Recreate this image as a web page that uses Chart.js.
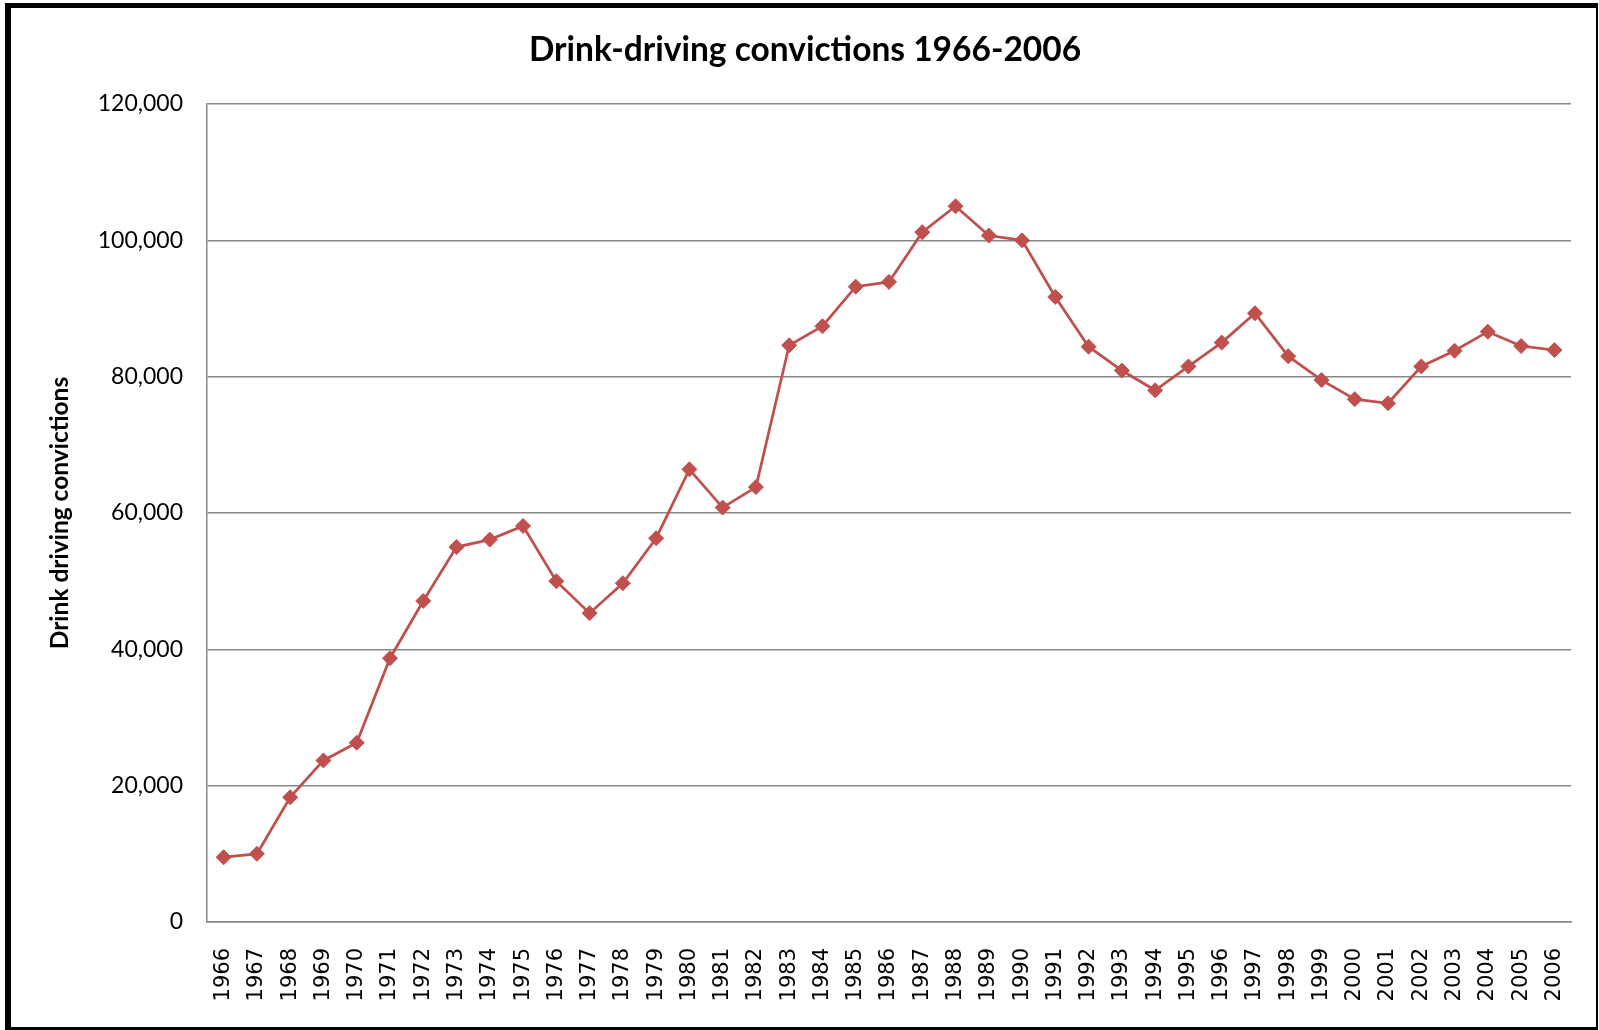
<!DOCTYPE html>
<html>
<head>
<meta charset="utf-8">
<title>Drink-driving convictions 1966-2006</title>
<script src="https://cdn.jsdelivr.net/npm/chart.js@4.4.1/dist/chart.umd.min.js"></script>
<style>
  html, body { margin: 0; padding: 0; background: #ffffff; }
  #wrap { position: relative; width: 1599px; height: 1030px; overflow: hidden; }
  #chart { position: absolute; left: 0; top: 0; }
  #frame {
    position: absolute; left: 5px; top: 3px; width: 1593px; height: 1027px;
    box-sizing: border-box; pointer-events: none;
    border-style: solid; border-color: #000;
    border-width: 5px 2px 3px 6px;
  }
</style>
</head>
<body>
<div id="wrap">
  <canvas id="chart" width="1599" height="1030"></canvas>
  <div id="frame"></div>
</div>
<script>
// Years on the category axis
const years = [
  '1966','1967','1968','1969','1970','1971','1972','1973','1974','1975',
  '1976','1977','1978','1979','1980','1981','1982','1983','1984','1985',
  '1986','1987','1988','1989','1990','1991','1992','1993','1994','1995',
  '1996','1997','1998','1999','2000','2001','2002','2003','2004','2005','2006'
];

// Drink-driving convictions per year
const convictions = [
  9500, 10000, 18300, 23700, 26300, 38700, 47100, 55000, 56100, 58100,
  50000, 45300, 49700, 56300, 66400, 60800, 63800, 84600, 87400, 93200,
  93900, 101200, 105000, 100700, 100000, 91700, 84400, 80900, 78000, 81500,
  85000, 89300, 83000, 79500, 76700, 76100, 81500, 83800, 86600, 84500, 83900
];

// Value axis ticks
const yTickValues = [0, 20000, 40000, 60000, 80000, 100000, 120000];

const gridGrey = '#878787';
const seriesRed = '#C0504D';

new Chart(document.getElementById('chart'), {
  type: 'line',
  data: {
    labels: years,
    datasets: [{
      label: 'Drink driving convictions',
      data: convictions,
      borderColor: seriesRed,
      backgroundColor: seriesRed,
      borderWidth: 2.75,
      tension: 0,
      fill: false,
      pointStyle: 'rectRot',
      pointRadius: 7.5,
      pointBorderWidth: 1,
      pointBackgroundColor: seriesRed,
      pointBorderColor: seriesRed
    }]
  },
  options: {
    responsive: false,
    animation: false,
    events: [],
    layout: { padding: { left: 39, right: 28, top: 0, bottom: 10 } },
    plugins: {
      legend: { display: false },
      tooltip: { enabled: false },
      title: {
        display: true,
        text: 'Drink-driving convictions 1966-2006',
        color: '#000',
        font: { family: 'Lato', size: 33.5, weight: 'bold', lineHeight: 1.2 },
        padding: { top: 30.5, bottom: 33.3 }
      }
    },
    scales: {
      x: {
        offset: true,
        afterFit: (s) => { s.height = 98; s.paddingLeft = 0; s.paddingRight = 0; },
        grid: { display: false, drawTicks: false },
        border: { display: true, color: gridGrey, width: 1.5 },
        ticks: {
          autoSkip: false,
          maxRotation: 90,
          minRotation: 90,
          padding: 26,
          color: '#000',
          font: { family: 'DejaVu Sans', size: 21 }
        }
      },
      y: {
        min: 0,
        max: 120000,
        afterBuildTicks: (s) => { s.ticks = yTickValues.map(v => ({ value: v })); },
        afterFit: (s) => { s.width = 168; },
        grid: { color: gridGrey, lineWidth: 1.5, drawTicks: false },
        border: { display: true, color: gridGrey, width: 1.5 },
        ticks: {
          padding: 24,
          color: '#000',
          font: { family: 'Lato', size: 23 },
          callback: (v) => Number(v).toLocaleString('en-US')
        },
        title: {
          display: true,
          text: 'Drink driving convictions',
          color: '#000',
          font: { family: 'Lato', size: 24.5, weight: 'bold', lineHeight: 1.2 },
          padding: { top: 6, bottom: 0 }
        }
      }
    }
  }
});
</script>
</body>
</html>
